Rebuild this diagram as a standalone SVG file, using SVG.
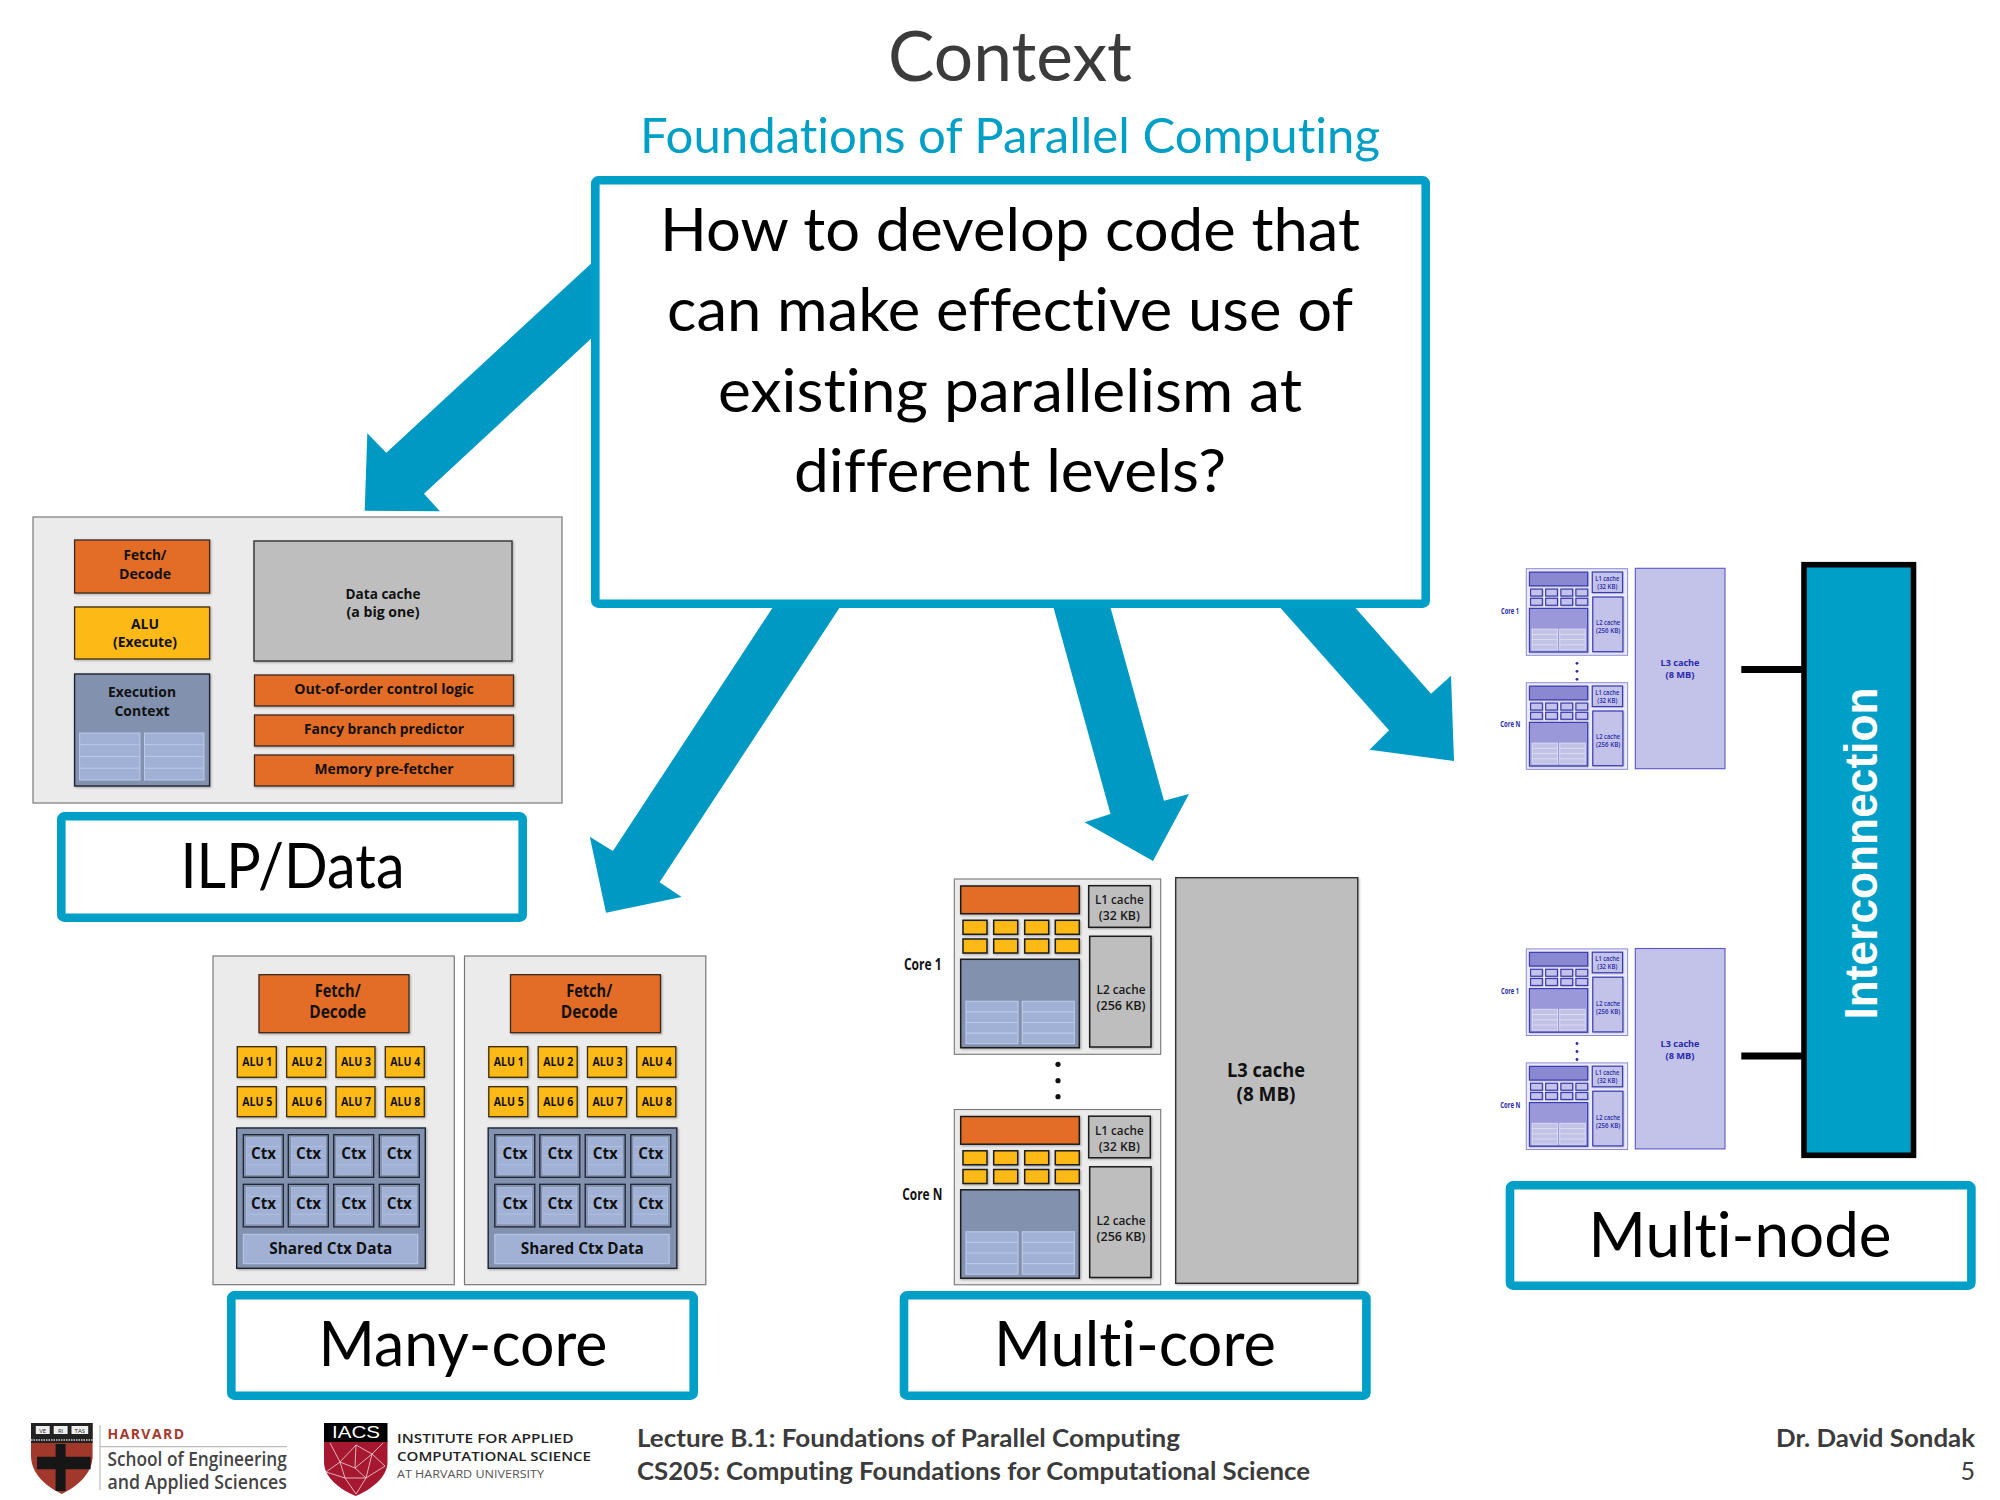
<svg xmlns="http://www.w3.org/2000/svg" xmlns:xlink="http://www.w3.org/1999/xlink" width="2000" height="1500" viewBox="0 0 2000 1500">
<style>
text{font-family:"Open Sans","Liberation Sans",sans-serif;text-anchor:middle;font-variant-ligatures:none}
.cal{font-family:Lato,"Liberation Sans",sans-serif}
.lbl{font-size:61px;fill:#000}
.q{font-size:60px;fill:#000}
.box{fill:#fff;stroke:#009fc7;stroke-width:8.6}
.arrow{fill:#0099c3}
.panel{fill:#ebebeb;stroke:#777;stroke-width:1.2}
.or{fill:#e36c25;stroke:#3a2a20;stroke-width:1.3}
.ye{fill:#fdb913;stroke:#3a2a10;stroke-width:1.3}
.ex{fill:#8291ae;stroke:#1f2430;stroke-width:1.4}
.ca{fill:#bebebe;stroke:#333;stroke-width:1.4}
.gr{fill:#a0b1d5;stroke:#bccaea;stroke-width:1}
.t{font-weight:700;fill:#111}
.s15{font-size:15px}
.s16{font-size:16px}
.chip-p{fill:var(--p);stroke:var(--ps);stroke-width:var(--sw1)}
.chip-o{fill:var(--o);stroke:var(--ls);stroke-width:var(--sw)}
.chip-y{fill:var(--y);stroke:var(--ls);stroke-width:var(--sw)}
.chip-e{fill:var(--e);stroke:var(--ls);stroke-width:var(--sw)}
.chip-c{fill:var(--c);stroke:var(--ls);stroke-width:var(--sw)}
.chip-g{fill:var(--g);stroke:var(--gs);stroke-width:var(--sw1)}
.chip-t{fill:var(--tx);font-size:13px;font-weight:600}
.full{--p:#ebebeb;--ps:#777;--o:#e36c25;--y:#fdb913;--e:#8291ae;--c:#bebebe;--g:#a0b1d5;--gs:#bccaea;--ls:#1c1c1c;--tx:#1a1a1a;--sw:1.5;--sw1:1.1}
.tint{--p:#eaeaf8;--ps:#8a8ad8;--o:#8a88d0;--y:#c4c2e8;--e:#9a98d8;--c:#c3c2e8;--g:#c2c1e6;--gs:#dcdcf2;--ls:#3b3bb4;--tx:#2a2aa8;--sw:2.4;--sw1:2}
.ft{font-weight:700;fill:#3b3b3b;font-size:25px;text-anchor:start}
.mt{fill:#2a2aa8;font-weight:700}
</style>
<defs>
<filter id="sh" x="-10%" y="-10%" width="125%" height="125%"><feDropShadow dx="1" dy="1" stdDeviation="0.8" flood-color="#000" flood-opacity="0.3"/></filter>
<g id="gridtable">
<rect class="chip-g" x="0" y="0" width="52" height="42.4"/>
<path d="M0,10.6H52M0,21.2H52M0,31.8H52" fill="none" stroke="var(--gs)" stroke-width="var(--sw1)"/>
</g>
<g id="chip">
<rect class="chip-p" x="0" y="0" width="206.4" height="175.3"/>
<g filter="url(#sh)">
<rect class="chip-o" x="6.4" y="7" width="118.6" height="27.7"/>
<rect class="chip-c" x="134.4" y="6.7" width="61.6" height="41.6"/>
<rect class="chip-y" x="8.7" y="41.3" width="24" height="14"/>
<rect class="chip-y" x="39.4" y="41.3" width="24" height="14"/>
<rect class="chip-y" x="70.4" y="41.3" width="24" height="14"/>
<rect class="chip-y" x="101" y="41.3" width="24" height="14"/>
<rect class="chip-y" x="8.7" y="60" width="24" height="14"/>
<rect class="chip-y" x="39.4" y="60" width="24" height="14"/>
<rect class="chip-y" x="70.4" y="60" width="24" height="14"/>
<rect class="chip-y" x="101" y="60" width="24" height="14"/>
<rect class="chip-e" x="6.4" y="80.3" width="118.6" height="88.4"/>
<rect class="chip-c" x="135.4" y="57.3" width="61.3" height="110.7"/>
</g>
<use href="#gridtable" x="11.7" y="122.3"/>
<use href="#gridtable" x="68" y="122.3"/>
<text class="chip-t" x="165" y="25.3" textLength="48.7" lengthAdjust="spacingAndGlyphs">L1 cache</text>
<text class="chip-t" x="165" y="41.3" textLength="41" lengthAdjust="spacingAndGlyphs">(32 KB)</text>
<text class="chip-t" x="166.7" y="115" textLength="49" lengthAdjust="spacingAndGlyphs">L2 cache</text>
<text class="chip-t" x="166.7" y="131" textLength="49" lengthAdjust="spacingAndGlyphs">(256 KB)</text>
</g>
<g id="ctx">
<rect x="0" y="0" width="40" height="42.6" fill="#8291ae" stroke="#1f2430" stroke-width="1.3"/>
<rect x="3" y="3" width="34" height="36.6" fill="#a0b1d5" stroke="#b3c1e0" stroke-width=".7"/>
<path d="M3,12H37M3,21H37M3,30H37" stroke="#b7c5e4" stroke-width=".7"/>
</g>
<g id="mcore">
<rect class="panel" x="0" y="0" width="241.3" height="328.7"/>
<g filter="url(#sh)">
<rect class="or" x="46" y="18.7" width="150" height="58"/>
<rect class="ye" x="24.3" y="90.7" width="39" height="30.6"/>
<rect class="ye" x="73.7" y="90.7" width="39" height="30.6"/>
<rect class="ye" x="123" y="90.7" width="39" height="30.6"/>
<rect class="ye" x="172.3" y="90.7" width="39" height="30.6"/>
<rect class="ye" x="24.3" y="130.7" width="39" height="30"/>
<rect class="ye" x="73.7" y="130.7" width="39" height="30"/>
<rect class="ye" x="123" y="130.7" width="39" height="30"/>
<rect class="ye" x="172.3" y="130.7" width="39" height="30"/>
<rect class="ex" x="23.7" y="172" width="188.6" height="140.3"/>
</g>
<use href="#ctx" x="30.3" y="178.7"/><use href="#ctx" x="75.3" y="178.7"/><use href="#ctx" x="120.7" y="178.7"/><use href="#ctx" x="166.3" y="178.7"/>
<use href="#ctx" x="30.3" y="228.3"/><use href="#ctx" x="75.3" y="228.3"/><use href="#ctx" x="120.7" y="228.3"/><use href="#ctx" x="166.3" y="228.3"/>
<rect x="30.3" y="278.3" width="174.4" height="29.4" fill="#a0b1d5" stroke="#bccaea" stroke-width="1"/>
<g class="t s16">
<text x="124.7" y="41.3" font-size="17.5" textLength="46" lengthAdjust="spacingAndGlyphs">Fetch/</text>
<text x="124.7" y="62" font-size="17.5" textLength="57" lengthAdjust="spacingAndGlyphs">Decode</text>
<text x="117.8" y="298.3" font-size="15.5" textLength="123" lengthAdjust="spacingAndGlyphs">Shared Ctx Data</text>
</g>
<g class="t" font-size="13">
<text x="44.3" y="110" textLength="30" lengthAdjust="spacingAndGlyphs">ALU 1</text><text x="93.7" y="110" textLength="30" lengthAdjust="spacingAndGlyphs">ALU 2</text><text x="143" y="110" textLength="30" lengthAdjust="spacingAndGlyphs">ALU 3</text><text x="192.3" y="110" textLength="30" lengthAdjust="spacingAndGlyphs">ALU 4</text>
<text x="44.3" y="149.7" textLength="30" lengthAdjust="spacingAndGlyphs">ALU 5</text><text x="93.7" y="149.7" textLength="30" lengthAdjust="spacingAndGlyphs">ALU 6</text><text x="143" y="149.7" textLength="30" lengthAdjust="spacingAndGlyphs">ALU 7</text><text x="192.3" y="149.7" textLength="30" lengthAdjust="spacingAndGlyphs">ALU 8</text>
</g>
<g class="t" font-size="15.5">
<text x="50.5" y="203.3" textLength="25" lengthAdjust="spacingAndGlyphs">Ctx</text><text x="95.5" y="203.3" textLength="25" lengthAdjust="spacingAndGlyphs">Ctx</text><text x="140.8" y="203.3" textLength="25" lengthAdjust="spacingAndGlyphs">Ctx</text><text x="186.3" y="203.3" textLength="25" lengthAdjust="spacingAndGlyphs">Ctx</text>
<text x="50.5" y="253.3" textLength="25" lengthAdjust="spacingAndGlyphs">Ctx</text><text x="95.5" y="253.3" textLength="25" lengthAdjust="spacingAndGlyphs">Ctx</text><text x="140.8" y="253.3" textLength="25" lengthAdjust="spacingAndGlyphs">Ctx</text><text x="186.3" y="253.3" textLength="25" lengthAdjust="spacingAndGlyphs">Ctx</text>
</g>
</g>
<g id="node">
<use href="#chip" transform="translate(0,0.4) scale(0.491,0.494)"/>
<use href="#chip" transform="translate(0,114.4) scale(0.491,0.494)"/>
<circle cx="50.7" cy="95" r="1.4" fill="#2a2aa8"/><circle cx="50.7" cy="103" r="1.4" fill="#2a2aa8"/><circle cx="50.7" cy="111" r="1.4" fill="#2a2aa8"/>
<rect x="109" y="0" width="89.7" height="200.4" fill="#c3c2e8" stroke="#5a58c8" stroke-width="1.1"/>
<text class="mt" x="-16.3" y="45.5" font-size="8" textLength="18" lengthAdjust="spacingAndGlyphs">Core 1</text>
<text class="mt" x="-16" y="159" font-size="8" textLength="20" lengthAdjust="spacingAndGlyphs">Core N</text>
<text class="mt" x="153.7" y="98" font-size="9.5" textLength="39" lengthAdjust="spacingAndGlyphs">L3 cache</text>
<text class="mt" x="153.7" y="110" font-size="9.5" textLength="29" lengthAdjust="spacingAndGlyphs">(8 MB)</text>
</g>
</defs>

<rect width="2000" height="1500" fill="#fff"/>

<g id="title">
<text class="cal" x="1010" y="81" font-size="70" fill="#3b3b3b" textLength="244" lengthAdjust="spacingAndGlyphs">Context</text>
<text class="cal" x="1010" y="153" font-size="48" fill="#00a0c6" textLength="740" lengthAdjust="spacingAndGlyphs">Foundations of Parallel Computing</text>
</g>

<g id="connectors">
<polygon class="arrow" points="595,260 386.3,452.7 367.3,433.3 364.7,510.7 440,511.3 424,493.7 595,335"/>
<polygon class="arrow" points="775,604 612.9,851 589.8,836.7 606,912.7 681.6,897 659.6,882.3 842,604"/>
<polygon class="arrow" points="1052.5,604 1110.5,814 1084.5,822.3 1153,861 1189,794 1164,800.7 1109.5,604"/>
<polygon class="arrow" points="1277,604 1389,730.3 1369.5,749.7 1454,761 1451,675.7 1431,693.7 1352,604"/>
<rect x="1741.3" y="666" width="62" height="7" fill="#000"/>
<rect x="1741.3" y="1052.5" width="62" height="7" fill="#000"/>
</g>

<g id="question">
<rect class="box" x="595.3" y="180.3" width="830.4" height="423.4" rx="3"/>
<text class="cal q" x="1010" y="251" textLength="700" lengthAdjust="spacingAndGlyphs">How to develop code that</text>
<text class="cal q" x="1010" y="331" textLength="686" lengthAdjust="spacingAndGlyphs">can make effective use of</text>
<text class="cal q" x="1010" y="411.5" textLength="584" lengthAdjust="spacingAndGlyphs">existing parallelism at</text>
<text class="cal q" x="1010" y="492" textLength="432" lengthAdjust="spacingAndGlyphs">different levels?</text>
</g>

<g id="ilp">
<rect class="panel" x="33" y="517" width="529" height="286"/>
<g filter="url(#sh)">
<rect class="or" x="74.6" y="540" width="135" height="53"/>
<rect class="ye" x="74.6" y="607" width="135" height="52"/>
<rect class="ex" x="74.6" y="674" width="135" height="112"/>
<rect class="ca" x="254" y="541" width="258" height="120"/>
<rect class="or" x="254.5" y="675" width="259" height="31"/>
<rect class="or" x="254.5" y="715" width="259" height="31"/>
<rect class="or" x="254.5" y="755" width="259" height="31"/>
</g>
<rect class="gr" x="79.6" y="733" width="60.4" height="47"/><path class="gr" d="M79.6,744.7H140M79.6,756.5H140M79.6,768.2H140"/>
<rect class="gr" x="144.5" y="733" width="59.5" height="47"/><path class="gr" d="M144.5,744.7H204M144.5,756.5H204M144.5,768.2H204"/>
<g class="t s15">
<text x="145" y="560.3" textLength="43" lengthAdjust="spacingAndGlyphs">Fetch/</text>
<text x="145" y="579" textLength="52" lengthAdjust="spacingAndGlyphs">Decode</text>
<text x="145" y="628.7" textLength="28" lengthAdjust="spacingAndGlyphs">ALU</text>
<text x="145" y="647.3" textLength="64" lengthAdjust="spacingAndGlyphs">(Execute)</text>
<text x="142" y="696.7" textLength="68" lengthAdjust="spacingAndGlyphs">Execution</text>
<text x="142" y="715.7" textLength="55" lengthAdjust="spacingAndGlyphs">Context</text>
<text x="383" y="599" textLength="75" lengthAdjust="spacingAndGlyphs">Data cache</text>
<text x="383" y="617.3" textLength="73" lengthAdjust="spacingAndGlyphs">(a big one)</text>
<text x="384" y="694" textLength="179.5" lengthAdjust="spacingAndGlyphs">Out-of-order control logic</text>
<text x="384" y="734" textLength="160" lengthAdjust="spacingAndGlyphs">Fancy branch predictor</text>
<text x="384" y="774.3" textLength="139" lengthAdjust="spacingAndGlyphs">Memory pre-fetcher</text>
</g>
<rect class="box" x="61.3" y="816.3" width="461.4" height="101.4" rx="3"/>
<text class="cal lbl" x="292.5" y="888" textLength="224" lengthAdjust="spacingAndGlyphs">ILP/Data</text>
</g>

<g id="many-core">
<use href="#mcore" x="213" y="956"/>
<use href="#mcore" x="464.5" y="956"/>
<rect class="box" x="231.3" y="1295.3" width="462.4" height="100.4" rx="3"/>
<text class="cal lbl" x="463" y="1366" textLength="289" lengthAdjust="spacingAndGlyphs">Many-core</text>
</g>

<g id="multi-core" class="full">
<use href="#chip" x="954.3" y="879"/>
<use href="#chip" x="954.3" y="1109.5"/>
<circle cx="1058" cy="1064.3" r="2.6" fill="#111"/><circle cx="1058" cy="1080.7" r="2.6" fill="#111"/><circle cx="1058" cy="1096.7" r="2.6" fill="#111"/>
<rect class="ca" x="1175.7" y="877.7" width="182" height="405.6" filter="url(#sh)"/>
<text class="t" x="922.8" y="970" font-size="16.5" textLength="37.7" lengthAdjust="spacingAndGlyphs">Core 1</text>
<text class="t" x="922.3" y="1200" font-size="16.5" textLength="40" lengthAdjust="spacingAndGlyphs">Core N</text>
<text x="1266" y="1076.7" font-size="19.5" font-weight="700" fill="#111" textLength="78" lengthAdjust="spacingAndGlyphs">L3 cache</text>
<text x="1266" y="1101" font-size="19.5" font-weight="700" fill="#111" textLength="59" lengthAdjust="spacingAndGlyphs">(8 MB)</text>
<rect class="box" x="909" y="1295.3" width="462.4" height="100.4" rx="3" transform="translate(-5,0)"/>
<text class="cal lbl" x="1141" y="1366" textLength="282" lengthAdjust="spacingAndGlyphs" transform="translate(-6,0)">Multi-core</text>
</g>

<g id="multi-node" class="tint">
<use href="#node" x="1526.3" y="568.3"/>
<use href="#node" x="1526.3" y="948.5"/>
<rect x="1804" y="564.7" width="109.5" height="590.6" fill="#009fc7" stroke="#000" stroke-width="5.6"/>
<text transform="translate(1876.7,853.5) rotate(-90)" font-size="46" font-weight="700" fill="#fff" style="font-family:'Liberation Sans',sans-serif" textLength="332" lengthAdjust="spacingAndGlyphs">Interconnection</text>
<rect class="box" x="1510" y="1185.3" width="461.4" height="100.4" rx="3"/>
<text class="cal lbl" x="1740" y="1257" textLength="303" lengthAdjust="spacingAndGlyphs">Multi-node</text>
</g>

<g id="harvard-logo">
<path d="M31,1423H92.6V1456C92.6,1474 76,1487 61.8,1494C47,1487 31,1474 31,1456Z" fill="#a2382c"/>
<path d="M31,1423H92.6V1443H31Z" fill="#222"/>
<rect x="35.8" y="1426" width="13.9" height="8" fill="#eee"/><rect x="53.7" y="1426" width="13.9" height="8" fill="#eee"/><rect x="71.5" y="1426" width="16.7" height="8" fill="#eee"/>
<text x="42.7" y="1432.5" font-size="6" fill="#222">VE</text><text x="60.6" y="1432.5" font-size="6" fill="#222">RI</text><text x="79.8" y="1432.5" font-size="6" fill="#222">TAS</text>
<path d="M31,1440H92.6" stroke="#ccc" stroke-width="1.5" stroke-dasharray="1.5 1"/>
<path d="M55.6,1444H65.6V1456.7H90.6V1469.3H65.6V1491H55.6V1469.3H37V1456.7H55.6Z" fill="#161616"/>
<path d="M100,1425V1490M100,1446.7H287" stroke="#bbb" stroke-width="1.2" fill="none"/>
<text x="107.5" y="1439" font-size="14" font-weight="700" fill="#a4392e" style="text-anchor:start" textLength="76.5">HARVARD</text>
<text x="107.5" y="1466" font-size="19" font-weight="600" fill="#444" style="text-anchor:start" textLength="179.3" lengthAdjust="spacingAndGlyphs">School of Engineering</text>
<text x="107.5" y="1489" font-size="19" font-weight="600" fill="#444" style="text-anchor:start" textLength="179.3" lengthAdjust="spacingAndGlyphs">and Applied Sciences</text>
</g>

<g id="iacs-logo">
<path d="M324,1441H387.5V1462C387.5,1478 370,1490 355.7,1496C341,1490 324,1478 324,1462Z" fill="#a5182f"/>
<rect x="324" y="1423" width="63.5" height="19" fill="#000"/>
<path d="M330,1443L340,1462L326,1472L345,1478L356,1494L366,1478L385,1466L372,1454L383,1443M340,1462L356,1445L372,1454L366,1478L345,1478L340,1462M356,1445L355,1468L366,1478M355,1468L372,1454M355,1468L340,1462" fill="none" stroke="#f3d5da" stroke-width=".8"/>
<text x="356" y="1438.3" font-size="16.5" fill="#fff" style="font-family:'Liberation Sans',sans-serif" textLength="48" lengthAdjust="spacingAndGlyphs">IACS</text>
<text x="397" y="1443.3" font-size="13" font-weight="600" fill="#222" style="text-anchor:start" textLength="176.5" lengthAdjust="spacingAndGlyphs">INSTITUTE FOR APPLIED</text>
<text x="397" y="1460.7" font-size="13" font-weight="600" fill="#222" style="text-anchor:start" textLength="194" lengthAdjust="spacingAndGlyphs">COMPUTATIONAL SCIENCE</text>
<text x="397" y="1477.7" font-size="10.5" fill="#555" style="text-anchor:start" textLength="147" lengthAdjust="spacingAndGlyphs">AT HARVARD UNIVERSITY</text>
</g>

<g id="footer">
<text class="cal ft" x="637" y="1447" textLength="543" lengthAdjust="spacingAndGlyphs">Lecture B.1: Foundations of Parallel Computing</text>
<text class="cal ft" x="637" y="1480" textLength="673" lengthAdjust="spacingAndGlyphs">CS205: Computing Foundations for Computational Science</text>
<text class="cal ft" x="1975" y="1447" style="text-anchor:end" textLength="199" lengthAdjust="spacingAndGlyphs">Dr. David Sondak</text>
<text class="cal" x="1975" y="1480" font-size="25" fill="#3b3b3b" style="text-anchor:end">5</text>
</g>
</svg>
